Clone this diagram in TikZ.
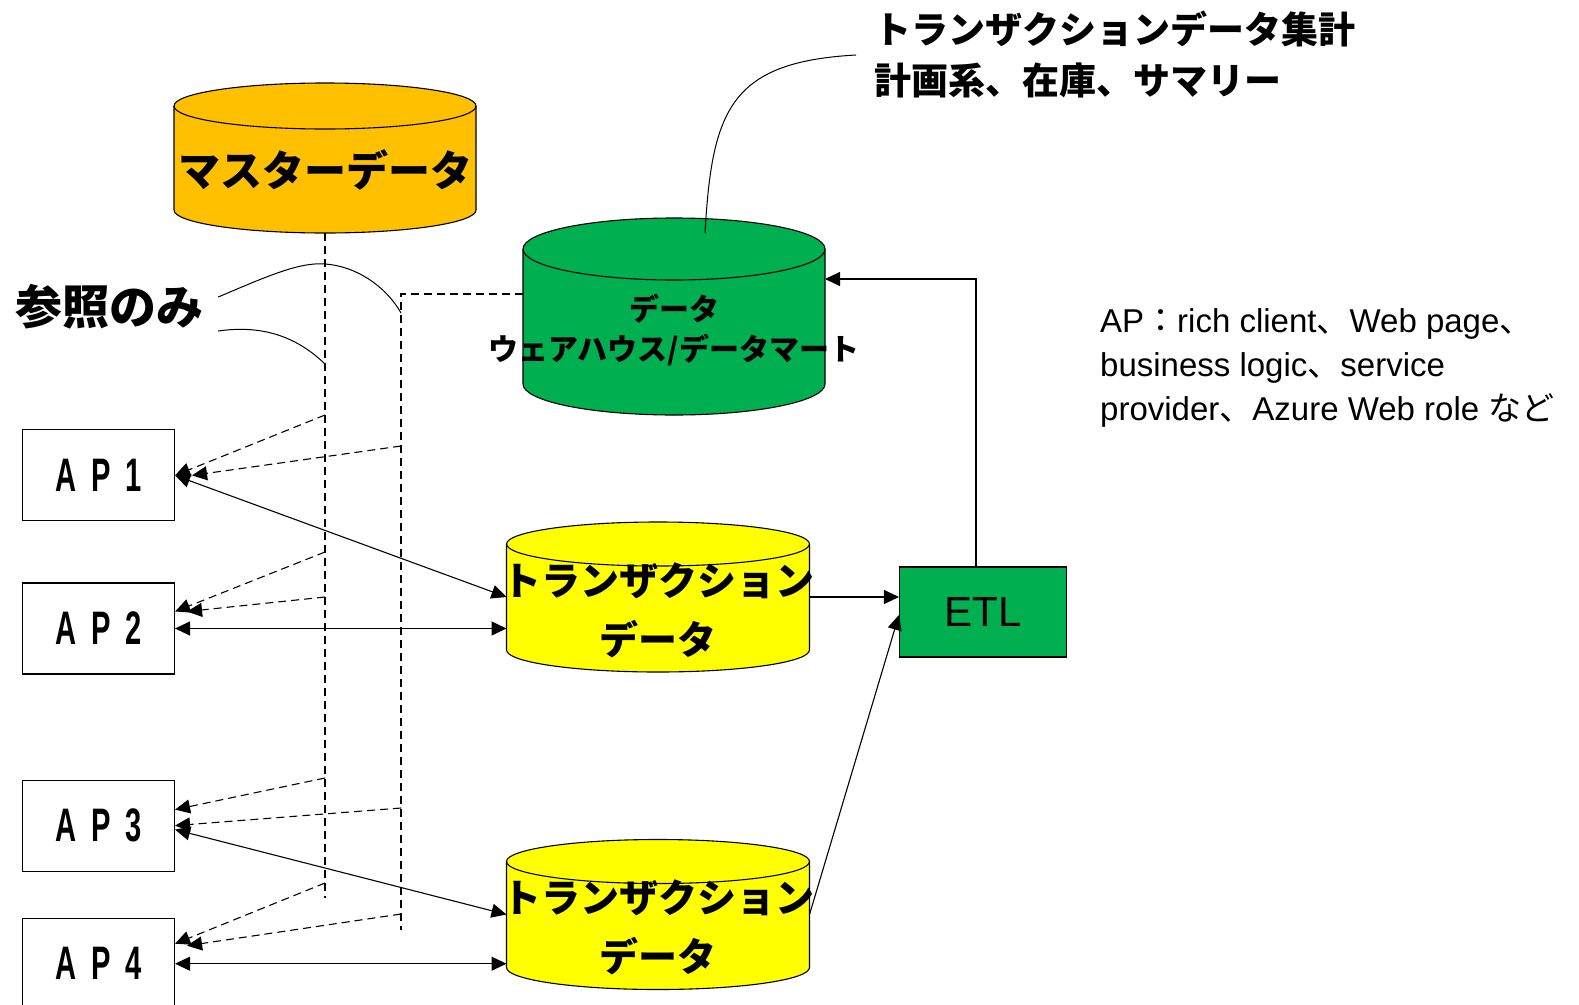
\documentclass[tikz,border=0pt]{standalone}
\usepackage{fontspec}
\setmainfont{Noto Sans CJK JP}
\newfontfamily\jp{Noto Sans CJK JP}
\newfontfamily\latinfont{Liberation Sans}
\newfontfamily\apfont[FakeStretch=0.62,WordSpace=1.8]{Liberation Sans}
\usepackage{tikz}
\usetikzlibrary{positioning}
\usetikzlibrary{arrows.meta}
\definecolor{masterorange}{HTML}{FFC000}
\definecolor{dwhgreen}{HTML}{00B050}
\definecolor{txyellow}{HTML}{FFFF00}
\tikzset{
    tank/.style={rectangle, minimum width=302pt, minimum height=150pt, inner sep=0pt, outer sep=0pt},
    tankline/.style={line width=1.1pt},
    dbtext/.style={align=center, inner sep=0pt},
    apbox/.style={draw, rectangle, minimum width=152pt, minimum height=91pt, line width=1.1pt, font=\apfont\bfseries\fontsize{47}{47}\selectfont},
    etlbox/.style={draw, rectangle, minimum width=167pt, minimum height=90pt, line width=1.1pt, fill=dwhgreen, font=\latinfont\fontsize{42}{42}\selectfont},
    arrow/.style={line width=1.1pt, -{Triangle[length=15pt,width=14pt]}},
    biarrow/.style={line width=1.1pt, {Triangle[length=15pt,width=14pt]}-{Triangle[length=15pt,width=14pt]}},
    refline/.style={line width=1.1pt, dash pattern=on 8pt off 5pt},
    refarrow/.style={refline, -{Triangle[length=15pt,width=14pt]}},
    callout/.style={line width=1pt}
}

% cylinder round a tank node: name, x radius, ellipse radius, fill
\newcommand{\drawtank}[4]{%
  \filldraw[tankline, fill=#4] ([yshift=-#3pt]#1.north west) -- ([yshift=#3pt]#1.south west)
      arc[start angle=180, end angle=0, x radius=#2, y radius=#3]
      -- ([yshift=-#3pt]#1.north east)
      arc[start angle=0, end angle=-180, x radius=#2, y radius=#3] -- cycle;
  \draw[tankline] ([yshift=-#3pt]#1.north west) arc[start angle=180, end angle=0, x radius=#2, y radius=#3];
}

\begin{document}
\begin{tikzpicture}[x=1pt, y=-1pt]
\useasboundingbox (0,0) rectangle (1579,1004);
\clip (0,0) rectangle (1579,1004);

% data stores
\node [tank]                                   (master) at (325,158)   {};
\node [tank, minimum height=197pt]             (dwh)    at (674,316.5) {};
\node [tank, minimum width=303pt]              (trans1) at (658,597)   {};
\node [tank, minimum width=303pt]              (trans2) at (658,914.5) {};
\drawtank{master}{151}{23}{masterorange}
\drawtank{dwh}{151}{31}{dwhgreen}
\drawtank{trans1}{151.5}{22}{txyellow}
\drawtank{trans2}{151.5}{22}{txyellow}

\node [dbtext, font=\bfseries\fontsize{42}{42}\selectfont] (master-txt) at ([yshift=-12pt]master.center) {マスターデータ};
\node [dbtext, font=\bfseries\fontsize{30}{40}\selectfont] (dwh-txt)    at ([yshift=-14pt]dwh.center)    {データ\\ウェアハウス/データマート};
\node [dbtext, font=\bfseries\fontsize{39}{59}\selectfont] (trans1-txt) at ([yshift=-13pt]trans1.center) {トランザクション\\データ};
\node [dbtext, font=\bfseries\fontsize{39}{59}\selectfont] (trans2-txt) at ([yshift=-13pt]trans2.center) {トランザクション\\データ};

% applications
\node [apbox]                     (ap1) at (98.5,475.4) {A P 1};
\node [apbox, below=61pt of ap1]  (ap2)                 {A P 2};
\node [apbox, below=105pt of ap2] (ap3)                 {A P 3};
\node [apbox, below=46pt of ap3]  (ap4)                 {A P 4};

\node [etlbox] (etl) at (983,612) {ETL};

% notes
\node [anchor=west, align=left, inner sep=0pt, font=\bfseries\fontsize{37}{51}\selectfont] (summary) at (874,55)
      {トランザクションデータ集計\\計画系、在庫、サマリー};
\node [inner sep=0pt, font=\bfseries\fontsize{47}{47}\selectfont] (refonly) at (109,307) {参照のみ};
\node [anchor=north west, align=left, inner sep=0pt, font=\latinfont\fontsize{33}{44}\selectfont] (aptext) at (1100,308)
      {AP{\jp ：}rich client{\jp 、}Web page{\jp 、}\\business logic{\jp 、}service\\provider{\jp 、}Azure Web role {\jp など}};

% reference-only lines
\coordinate (tap) at (401,294);
\draw [refline] (master.south) -- (master.south |- 0,898);
\draw [refline] (dwh.west |- tap) -- (tap) -- (tap |- 0,930);

\coordinate (m1) at (master.south |- 0,415);
\coordinate (m2) at (master.south |- 0,552);
\coordinate (m3) at (master.south |- 0,597);
\coordinate (m4) at (master.south |- 0,778);
\coordinate (m5) at (master.south |- 0,883);
\coordinate (w1) at (tap |- 0,446);
\coordinate (w2) at (tap |- 0,808);
\coordinate (w3) at (tap |- 0,914);

\draw [refarrow] (m1) -- (ap1.east);
\draw [refarrow] (w1) -- ([xshift=17pt]ap1.east);
\draw [refarrow] (m2) -- ([yshift=17pt]ap2.east);
\draw [refarrow] (m3) -- ([xshift=12pt,yshift=17pt]ap2.east);
\draw [refarrow] (m4) -- ([yshift=16pt]ap3.east);
\draw [refarrow] (w2) -- (ap3.east);
\draw [refarrow] (m5) -- ([yshift=20pt]ap4.east);
\draw [refarrow] (w3) -- ([xshift=12pt,yshift=18pt]ap4.east);

% read / write
\draw [biarrow] (ap1.east) -- (trans1.west);
\draw [biarrow] (ap2.east) -- (ap2.east -| trans1.west);
\draw [biarrow] ([yshift=-4pt]ap3.east) -- (trans2.west);
\draw [biarrow] (ap4.east) -- (ap4.east -| trans2.west);

% load
\draw [arrow] (trans1.east) -- (trans1.east -| etl.west);
\draw [arrow] (trans2.east) -- ([yshift=-3pt]etl.west);
\draw [arrow] ([xshift=-7pt]etl.north) |- (dwh.east |- 0,279);

% callout lines
\coordinate (dwh-top) at (705,233);
\coordinate (ref-a) at (tap |- 0,313);
\coordinate (ref-b) at (master.south |- 0,364);
\draw [callout] ([xshift=-18pt]summary.west) .. controls (730,62) and (712,110) .. (dwh-top);
\draw [callout] ([xshift=15pt,yshift=10pt]refonly.east) .. controls (270,275) and (300,262) .. (325,264)
                .. controls (355,266) and (385,285) .. (ref-a);
\draw [callout] ([xshift=15pt,yshift=-24pt]refonly.east) .. controls (260,325) and (295,335) .. (ref-b);

\end{tikzpicture}
\end{document}
